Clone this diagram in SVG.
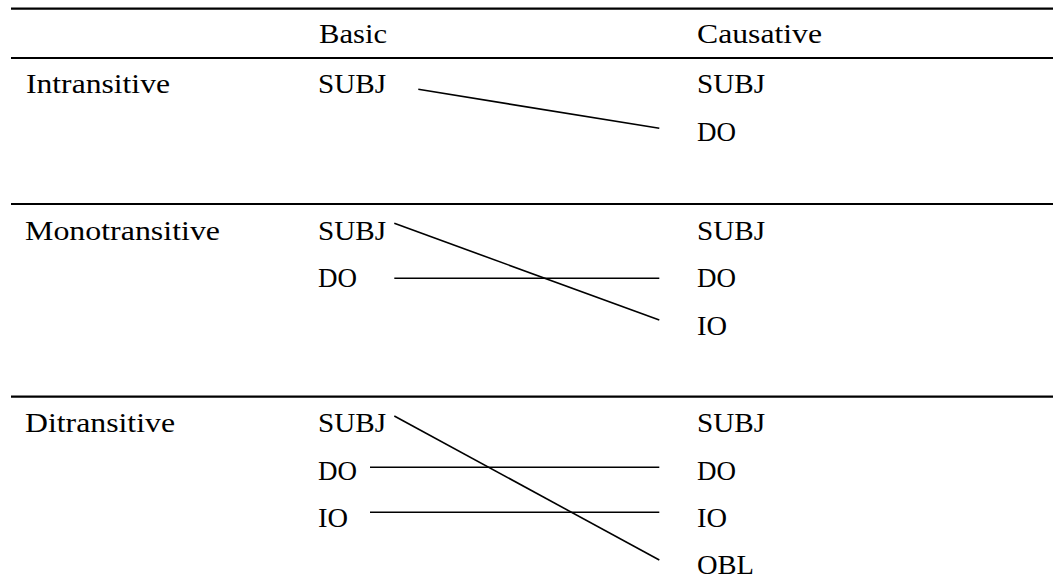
<svg xmlns="http://www.w3.org/2000/svg" width="1053" height="587" viewBox="0 0 1053 587">
<style>
.t{font-family:'Liberation Serif', 'DejaVu Serif', serif;font-size:28px;fill:#000}
.rule{stroke:#000;stroke-width:2.2}
.conn{stroke:#000;stroke-width:1.6;fill:none}
</style>
<rect width="1053" height="587" fill="#fff"/>
<g id="rules">
<line class="rule" x1="11" y1="8.7" x2="1053" y2="8.7"/>
<line class="rule" x1="11" y1="58" x2="1053" y2="58"/>
<line class="rule" x1="11" y1="204" x2="1053" y2="204"/>
<line class="rule" x1="11" y1="396.7" x2="1053" y2="396.7"/>
</g>
<g class="t">
<g id="header">
<text x="319" y="43" textLength="68" lengthAdjust="spacingAndGlyphs">Basic</text>
<text x="697" y="43" textLength="125" lengthAdjust="spacingAndGlyphs">Causative</text>
</g>
<g id="intransitive">
<text x="26" y="93" textLength="144" lengthAdjust="spacingAndGlyphs">Intransitive</text>
<text x="318" y="93" textLength="68" lengthAdjust="spacingAndGlyphs">SUBJ</text>
<text x="697" y="93" textLength="68" lengthAdjust="spacingAndGlyphs">SUBJ</text>
<text x="697" y="140.5" textLength="39" lengthAdjust="spacingAndGlyphs">DO</text>
</g>
<g id="monotransitive">
<text x="25" y="240" textLength="195" lengthAdjust="spacingAndGlyphs">Monotransitive</text>
<text x="318" y="240" textLength="68" lengthAdjust="spacingAndGlyphs">SUBJ</text>
<text x="318" y="287" textLength="39" lengthAdjust="spacingAndGlyphs">DO</text>
<text x="697" y="240" textLength="68" lengthAdjust="spacingAndGlyphs">SUBJ</text>
<text x="697" y="287" textLength="39" lengthAdjust="spacingAndGlyphs">DO</text>
<text x="697" y="334.5" textLength="30" lengthAdjust="spacingAndGlyphs">IO</text>
</g>
<g id="ditransitive">
<text x="25" y="431.7" textLength="150" lengthAdjust="spacingAndGlyphs">Ditransitive</text>
<text x="318" y="431.7" textLength="68" lengthAdjust="spacingAndGlyphs">SUBJ</text>
<text x="318" y="479.5" textLength="39" lengthAdjust="spacingAndGlyphs">DO</text>
<text x="318" y="526.7" textLength="30" lengthAdjust="spacingAndGlyphs">IO</text>
<text x="697" y="431.7" textLength="68" lengthAdjust="spacingAndGlyphs">SUBJ</text>
<text x="697" y="479.5" textLength="39" lengthAdjust="spacingAndGlyphs">DO</text>
<text x="697" y="526.7" textLength="30" lengthAdjust="spacingAndGlyphs">IO</text>
<text x="697" y="574" textLength="57" lengthAdjust="spacingAndGlyphs">OBL</text>
</g>
</g>
<g id="connectors">
<line class="conn" x1="418.3" y1="89.3" x2="659.3" y2="128.3"/>
<line class="conn" x1="394.3" y1="223.3" x2="659.3" y2="320"/>
<line class="conn" x1="394.3" y1="278.3" x2="659.3" y2="278.3"/>
<line class="conn" x1="394.3" y1="416" x2="659.3" y2="560"/>
<line class="conn" x1="370" y1="467.3" x2="659.3" y2="467.3"/>
<line class="conn" x1="370" y1="512.3" x2="659.3" y2="512.3"/>
</g>
</svg>
